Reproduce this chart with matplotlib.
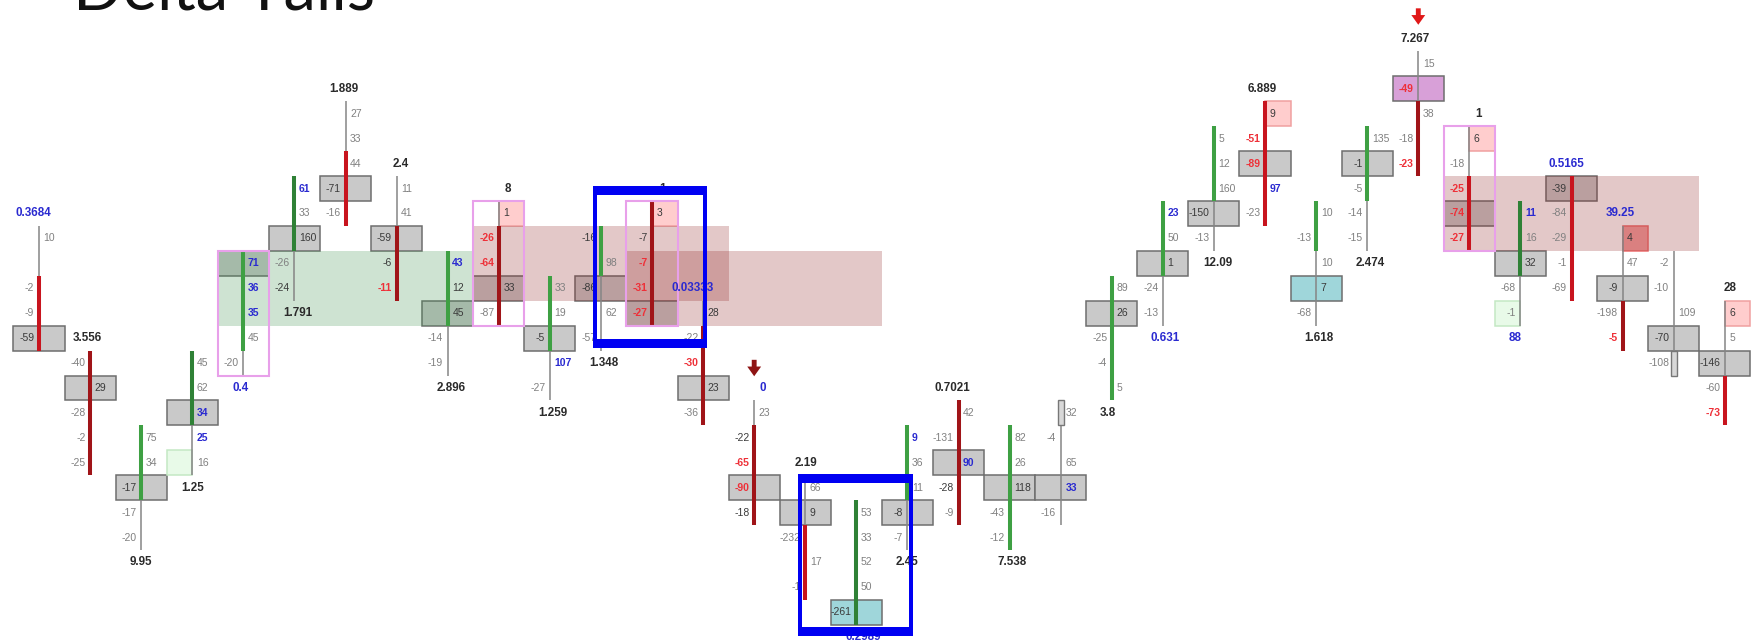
import matplotlib
matplotlib.use("Agg")
import matplotlib.pyplot as plt
from matplotlib.patches import Rectangle

plt.rcParams['font.family'] = ['Liberation Sans', 'DejaVu Sans']

# ---------- data: one entry per candle, price rows count downward ----------
first_row = [8, 13, 16, 13, 9, 6, 3, 6, 9, 7, 10, 8, 7, 11, 15, 18, 19, 16, 15, 16, 15, 10, 7, 4, 3, 7, 4, 1, 4, 7, 6, 8, 9, 11]
row_values = [
    [10, None, -2, -9, -59], [-40, 29, -28, -2, -25], [75, 34, -17, -17, -20], [45, 62, 34, 25, 16],
    [71, 36, 35, 45, -20], [61, 33, 160, -26, -24], [27, 33, 44, -71, -16], [11, 41, -59, -6, -11],
    [43, 12, 45, -14, -19], [1, -26, -64, 33, -87], [33, 19, -5, 107, -27], [-16, 98, -86, 62, -57],
    [3, -7, -7, -31, -27], [28, -22, -30, 23, -36], [23, -22, -65, -90, -18], [66, 9, -232, 17, -1],
    [53, 33, 52, 50, -261], [9, 36, 11, -8, -7], [42, -131, 90, -28, -9], [82, 26, 118, -43, -12],
    [32, -4, 65, 33, -16], [89, 26, -25, -4, 5], [23, 50, 1, -24, -13], [5, 12, 160, -150, -13],
    [9, -51, -89, 97, -23], [10, -13, 10, 7, -68], [135, -1, -5, -14, -15], [15, -49, 38, -18, -23],
    [6, -18, -25, -74, -27], [11, 16, 32, -68, -1], [-39, -84, -29, -1, -69], [4, 47, -9, -198, -5],
    [-2, -10, 109, -70, -108], [6, 5, -146, -60, -73],
]
value_tones = ["ggggk", "gkggg", "ggkgg", "ggbbg", "bbbgg", "bgkgk", "gggkg", "ggkkr", "bkkgg", "krrkg", "ggkbg", "kgkgg",
               "kkrrr", "kgrkg", "gkrrk", "gkggg", "ggggk", "bggkg", "ggbkg", "ggkgg", "gggbg", "gkggg", "bgkgg", "gggkg",
               "krrbg", "gggkg", "gkggg", "grggr", "kgrrr", "bgkgg", "kgggg", "kgkgr", "gggkg", "kgkgr"]
poc_row = [12, 14, 18, 15, 9, 8, 6, 8, 11, 10, 12, 10, 11, 14, 18, 19, 23, 19, 17, 18, 18, 11, 9, 7, 5, 10, 5, 2, 7, 9, 6, 10, 12, 13]
poc_kind = "ggggggggggggggggtggggggggtgpgggggg"
body_top = [9.5, 12.5, 15.5, 12.5, 8.5, 5.5, 4.5, 7.5, 8.5, 7.5, 9.5, 7.5, 6.5, 11.5, 15.5, 19.5, 18.5, 15.5, 14.5, 15.5, 14.5, 9.5, 6.5, 3.5, 2.5, 6.5, 3.5, 2.5, 5.5, 6.5, 5.5, 10.5, 12.5, 13.5]
body_bot = [12.5, 17.5, 18.5, 15.5, 12.5, 8.5, 7.5, 10.5, 11.5, 11.5, 12.5, 9.5, 11.5, 15.5, 19.5, 22.5, 23.5, 18.5, 19.5, 20.5, 15.5, 14.5, 9.5, 6.5, 7.5, 8.5, 6.5, 5.5, 8.5, 9.5, 10.5, 12.5, 13.5, 15.5]
body_kind = "rRgGgGrRgRggRRRrGgRgngggrggRrGrRnr"

label_candle = [0, 1, 2, 3, 4, 5, 6, 7, 8, 9, 10, 11, 12, 13, 14, 15, 16, 17, 18, 19, 21, 22, 23, 24, 25, 26, 27, 28, 29, 30, 31, 33]
label_row = [7, 12, 21, 18, 14, 11, 2, 5, 14, 6, 15, 13, 6, 10, 14, 17, 24, 21, 14, 21, 15, 12, 9, 2, 12, 9, 0, 3, 12, 5, 7, 10]
label_text = ["0.3684", "3.556", "9.95", "1.25", "0.4", "1.791", "1.889", "2.4", "2.896", "8", "1.259", "1.348", "1", "0.03333", "0", "2.19",
              "0.2989", "2.45", "0.7021", "7.538", "3.8", "0.631", "12.09", "6.889", "1.618", "2.474", "7.267", "1", "88", "0.5165", "39.25", "28"]
label_tone = "bkkkbkkkkkkkkbbkbkkkkbkkkkkkbbbk"
label_shift = [-0.11, -0.05, 0, 0, -0.06, 0.07, -0.04, 0.08, 0.07, 0.17, 0.06, 0.06, 0.2, -0.2, 0.17, 0.02,
               0.14, 0, -0.12, 0.05, -0.07, 0.05, 0.07, -0.06, 0.05, 0.06, -0.06, 0.17, -0.1, -0.1, -0.05, 0.1]

half_cell_candle = [3, 9, 12, 24, 28, 29, 31, 33]
half_cell_row = [17, 7, 7, 3, 4, 11, 8, 11]
half_cell_side = [-1, 1, 1, 1, 1, -1, 1, 1]
half_cell_kind = "gppppgsp"

outlined_candle = [4, 9, 12, 28]
zone_left = [3.5, 8.5, 11.5, 27.5]
zone_right = [8.5, 13.5, 16.5, 32.5]
zone_top = [8.5, 7.5, 8.5, 5.5]
zone_bot = [11.5, 10.5, 11.5, 8.5]
zone_color = [(60/255, 144/255, 76/255), (144/255, 36/255, 36/255), (144/255, 36/255, 36/255), (144/255, 36/255, 36/255)]

arrow_candle = [14, 27]
arrow_row = [13.2, -0.9]
arrow_color = ["#8e1414", "#e01818"]

frame_left = [10.85, 14.86]
frame_right = [13.08, 17.11]
frame_top = [5.9, 17.45]
frame_bot = [12.4, 23.95]

# ---------- styles ----------
TONE = {'g': ('#808080', 'normal'), 'k': ('#3a3a3a', 'normal'), 'r': ('#ee3038', 'bold'), 'b': ('#2a2ad0', 'bold')}
BODY = {'r': '#c8141e', 'R': '#a01418', 'g': '#3ea043', 'G': '#2f8136', 'n': '#b8b8b8'}
POC = {'g': '#c9c9c9', 't': '#9fd6da', 'p': '#d8a0d8'}
HALF = {'g': ('#e8fae8', '#c4e8c4'), 'p': ('#ffcdcd', '#f0a0a0'), 's': ('#f4a0a0', '#ee7070')}
BLUE = '#0000f2'

fig = plt.figure(figsize=(17.58, 6.42), dpi=100)
ax = fig.add_axes([0, 0, 1, 1])
ax.set_xlim(-0.7635, 33.65)
ax.set_ylim(24.19, -1.564)
ax.axis('off')

ax.text(0.666, -1.163, "Delta Tails", family='Lato', fontsize=47, color='#111111', ha='left', va='baseline')

for i, (start, vals) in enumerate(zip(first_row, row_values)):
    ax.add_patch(Rectangle((i - 0.5, poc_row[i] - 0.5), 1, 1, fc=POC[poc_kind[i]], ec='#6e6e6e', lw=1.1, zorder=1))
    ax.vlines(i, start - 0.5, start + len(vals) - 0.5, color='#858585', lw=1.1, zorder=3)
    if body_kind[i] == 'n':
        ax.add_patch(Rectangle((i - 0.06, body_top[i]), 0.12, body_bot[i] - body_top[i], fc='#d8d8d8', ec='#777777', lw=1, zorder=3))
    else:
        ax.vlines(i, body_top[i], body_bot[i], color=BODY[body_kind[i]], lw=2.9, zorder=3)
    for j, v in enumerate(vals):
        if v is None:
            continue
        col, weight = TONE[value_tones[i][j]]
        side = 0.09 if v >= 0 else -0.09
        ax.text(i + side, start + j, str(v), color=col, weight=weight, fontsize=7.5,
                ha='left' if v >= 0 else 'right', va='center', zorder=4)

for c, r, s, k in zip(half_cell_candle, half_cell_row, half_cell_side, half_cell_kind):
    fc, ec = HALF[k]
    x0 = c if s > 0 else c - 0.5
    ax.add_patch(Rectangle((x0, r - 0.5), 0.5, 1, fc=fc, ec=ec, lw=1.1, zorder=1.5))

for l, rgt, t, b, col in zip(zone_left, zone_right, zone_top, zone_bot, zone_color):
    ax.add_patch(Rectangle((l, t), rgt - l, b - t, fc=col, ec='none', alpha=0.25, zorder=2))

for c in outlined_candle:
    start = first_row[c]
    ax.add_patch(Rectangle((c - 0.5, start - 0.5), 1, len(row_values[c]), fc='none', ec='#e8a0ea', lw=1.5, zorder=3.5))

for c, r, t, tone, sh in zip(label_candle, label_row, label_text, label_tone, label_shift):
    col = '#2a2ad0' if tone == 'b' else '#2a2a2a'
    ax.text(c + sh, r, t, color=col, weight='bold', fontsize=8.4, ha='center', va='center', zorder=4)

for c, r, col in zip(arrow_candle, arrow_row, arrow_color):
    ax.annotate('', xy=(c, r + 0.33), xytext=(c, r - 0.33),
                arrowprops=dict(facecolor=col, edgecolor='none', width=3.5, headwidth=10, headlength=7, shrink=0), zorder=4)

for l, rgt, t, b in zip(frame_left, frame_right, frame_top, frame_bot):
    for (x, y, w, h) in [(l, t, rgt - l, 0.36), (l, b - 0.36, rgt - l, 0.36), (l, t, 0.08, b - t), (rgt - 0.08, t, 0.08, b - t)]:
        ax.add_patch(Rectangle((x, y), w, h, fc=BLUE, ec='none', zorder=6))

fig.savefig('out.png', dpi=100)
